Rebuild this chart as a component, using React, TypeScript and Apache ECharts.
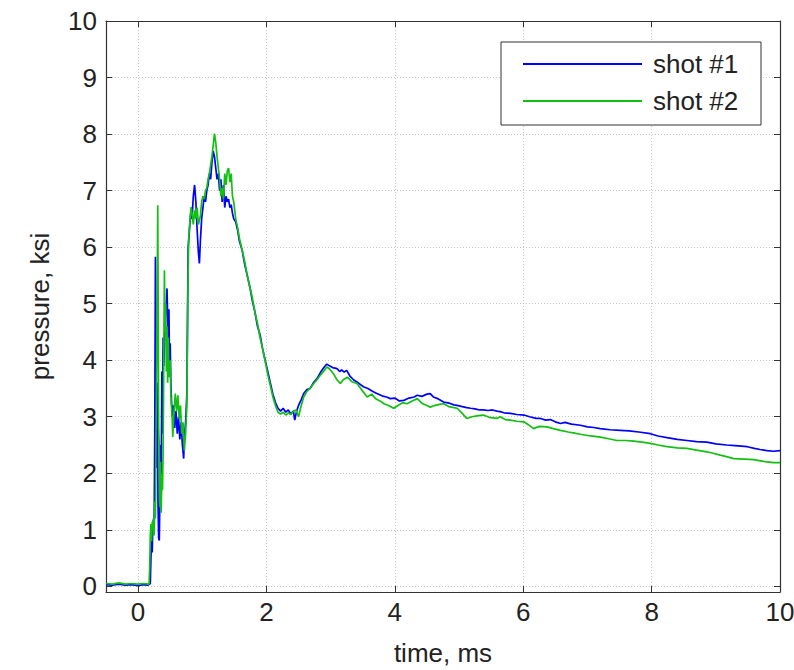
import React, { useEffect, useRef } from "react";
import * as echarts from "echarts";

const seriesNames = ["shot #1", "shot #2"];
const xTickValues = [0, 2, 4, 6, 8, 10];
const yTickValues = [0, 1, 2, 3, 4, 5, 6, 7, 8, 9, 10];

const shot1: number[][] = [
  [-0.5, 0.03], [-0.4, 0.02], [-0.3, 0.04], [-0.2, 0.02], [-0.1, 0.03], [0.0, 0.01], [0.08, 0.03], [0.15, 0.02],
  [0.19, 0.05], [0.2, 0.5], [0.21, 0.9], [0.22, 0.6], [0.23, 1.1], [0.24, 1.18], [0.25, 1.05], [0.26, 2.8],
  [0.27, 5.83], [0.28, 4.2], [0.29, 2.1], [0.3, 3.6], [0.31, 1.5], [0.32, 0.85], [0.33, 0.81], [0.34, 1.6],
  [0.35, 2.5], [0.36, 1.9], [0.37, 3.8], [0.38, 2.7], [0.39, 4.4], [0.4, 3.9], [0.42, 4.6], [0.44, 5.0],
  [0.45, 5.27], [0.46, 4.8], [0.47, 4.3], [0.48, 4.9], [0.49, 3.9], [0.5, 4.3], [0.51, 3.6], [0.53, 3.0],
  [0.55, 3.2], [0.57, 2.8], [0.59, 3.1], [0.61, 2.7], [0.63, 3.0], [0.65, 2.6], [0.67, 2.9], [0.69, 2.5],
  [0.71, 2.26], [0.72, 2.6], [0.74, 2.9], [0.76, 3.4], [0.77, 4.8], [0.78, 6.0], [0.8, 6.3], [0.82, 6.6],
  [0.84, 6.5], [0.86, 6.9], [0.88, 7.1], [0.9, 6.8], [0.92, 6.3], [0.94, 5.9], [0.955, 5.71], [0.97, 6.1],
  [0.99, 6.5], [1.01, 6.7], [1.03, 6.9], [1.05, 6.8], [1.07, 7.0], [1.09, 7.1], [1.11, 7.3], [1.13, 7.2],
  [1.15, 7.5], [1.17, 7.7], [1.19, 7.6], [1.21, 7.4], [1.23, 7.2], [1.25, 7.3], [1.27, 7.0], [1.29, 7.2],
  [1.31, 6.8], [1.33, 7.1], [1.35, 6.7], [1.37, 6.9], [1.39, 6.8], [1.41, 6.85], [1.43, 6.7], [1.45, 6.75],
  [1.47, 6.6], [1.49, 6.5], [1.52, 6.45], [1.55, 6.3], [1.58, 6.1], [1.62, 5.95], [1.66, 5.7], [1.7, 5.5],
  [1.74, 5.3], [1.78, 5.05], [1.82, 4.85], [1.86, 4.6], [1.9, 4.45], [1.94, 4.2], [1.98, 4.0], [2.02, 3.8],
  [2.06, 3.6], [2.1, 3.4], [2.14, 3.25], [2.18, 3.15], [2.22, 3.1], [2.26, 3.15], [2.3, 3.08], [2.34, 3.12],
  [2.38, 3.05], [2.42, 3.1], [2.44, 2.94], [2.47, 3.1], [2.5, 3.2], [2.54, 3.3], [2.58, 3.41], [2.63, 3.48],
  [2.68, 3.5], [2.73, 3.6], [2.79, 3.68], [2.85, 3.8], [2.9, 3.88], [2.94, 3.93], [2.98, 3.9], [3.03, 3.87],
  [3.1, 3.85], [3.14, 3.8], [3.17, 3.83], [3.21, 3.79], [3.25, 3.82], [3.3, 3.72], [3.36, 3.65], [3.43, 3.6],
  [3.51, 3.53], [3.58, 3.5], [3.65, 3.45], [3.72, 3.41], [3.8, 3.37], [3.87, 3.35], [3.93, 3.32], [4.0, 3.33],
  [4.07, 3.28], [4.14, 3.29], [4.22, 3.33], [4.3, 3.35], [4.35, 3.38], [4.42, 3.36], [4.5, 3.4], [4.55, 3.41],
  [4.6, 3.35], [4.67, 3.32], [4.76, 3.26], [4.85, 3.24], [4.92, 3.21], [4.97, 3.2], [5.05, 3.18], [5.12, 3.16],
  [5.18, 3.15], [5.25, 3.14], [5.32, 3.12], [5.38, 3.12], [5.45, 3.11], [5.52, 3.12], [5.59, 3.1], [5.64, 3.09],
  [5.7, 3.07], [5.8, 3.06], [5.9, 3.04], [6.01, 3.03], [6.1, 3.0], [6.2, 2.97], [6.27, 2.97], [6.35, 2.94],
  [6.42, 2.95], [6.5, 2.91], [6.58, 2.88], [6.65, 2.9], [6.75, 2.87], [6.89, 2.85], [7.0, 2.82], [7.1, 2.81],
  [7.2, 2.79], [7.35, 2.77], [7.51, 2.76], [7.65, 2.75], [7.8, 2.73], [7.98, 2.7], [8.1, 2.66], [8.24, 2.63],
  [8.4, 2.6], [8.55, 2.58], [8.7, 2.56], [8.86, 2.55], [9.0, 2.52], [9.17, 2.5], [9.3, 2.49], [9.49, 2.47],
  [9.6, 2.44], [9.69, 2.42], [9.8, 2.4], [9.9, 2.39], [10.0, 2.4],
];

const shot2: number[][] = [
  [-0.5, 0.05], [-0.4, 0.04], [-0.3, 0.06], [-0.2, 0.04], [-0.1, 0.05], [0.0, 0.04], [0.08, 0.05], [0.17, 0.04],
  [0.18, 0.3], [0.19, 0.9], [0.2, 1.1], [0.21, 0.8], [0.22, 1.14], [0.23, 1.0], [0.24, 1.2], [0.25, 0.9],
  [0.26, 1.5], [0.27, 1.2], [0.28, 2.9], [0.29, 4.0], [0.3, 5.5], [0.306, 6.74], [0.315, 4.5], [0.32, 2.8],
  [0.33, 2.47], [0.34, 1.4], [0.35, 2.2], [0.36, 1.3], [0.37, 2.0], [0.38, 1.7], [0.39, 2.4], [0.4, 4.0],
  [0.41, 5.59], [0.42, 4.5], [0.43, 5.0], [0.44, 3.8], [0.45, 4.6], [0.46, 3.6], [0.47, 4.4], [0.48, 3.7],
  [0.5, 4.0], [0.51, 3.4], [0.53, 3.0], [0.54, 2.64], [0.56, 3.1], [0.58, 3.41], [0.6, 3.1], [0.62, 3.38],
  [0.64, 2.96], [0.66, 3.2], [0.68, 2.7], [0.7, 2.9], [0.72, 2.4], [0.74, 2.7], [0.76, 3.2], [0.77, 4.5],
  [0.78, 5.6], [0.79, 6.2], [0.81, 6.5], [0.825, 6.71], [0.84, 6.6], [0.86, 6.4], [0.88, 6.65], [0.9, 6.5],
  [0.92, 6.7], [0.94, 6.4], [0.97, 6.55], [0.99, 6.8], [1.01, 6.9], [1.03, 6.85], [1.05, 7.0], [1.07, 7.05],
  [1.09, 7.2], [1.11, 7.3], [1.13, 7.45], [1.15, 7.6], [1.17, 7.8], [1.19, 8.01], [1.21, 7.85], [1.23, 7.6],
  [1.25, 7.4], [1.27, 7.2], [1.29, 6.9], [1.31, 7.05], [1.33, 6.85], [1.35, 7.3], [1.37, 7.1], [1.39, 7.35],
  [1.41, 7.4], [1.43, 7.15], [1.45, 7.3], [1.47, 6.9], [1.49, 6.8], [1.52, 6.5], [1.55, 6.35], [1.58, 6.15],
  [1.62, 5.95], [1.66, 5.75], [1.7, 5.5], [1.74, 5.3], [1.78, 5.1], [1.82, 4.85], [1.86, 4.65], [1.9, 4.4],
  [1.94, 4.2], [1.98, 3.98], [2.02, 3.75], [2.06, 3.55], [2.1, 3.35], [2.14, 3.2], [2.18, 3.08], [2.22, 3.05],
  [2.26, 3.08], [2.3, 3.03], [2.34, 3.07], [2.38, 3.04], [2.42, 3.1], [2.46, 3.12], [2.5, 3.0], [2.53, 3.15],
  [2.58, 3.35], [2.63, 3.45], [2.68, 3.5], [2.73, 3.58], [2.79, 3.66], [2.85, 3.75], [2.9, 3.82], [2.94, 3.88],
  [2.98, 3.85], [3.05, 3.75], [3.1, 3.65], [3.15, 3.59], [3.2, 3.66], [3.26, 3.7], [3.33, 3.62], [3.41, 3.59],
  [3.48, 3.48], [3.57, 3.35], [3.64, 3.4], [3.7, 3.32], [3.77, 3.28], [3.83, 3.23], [3.9, 3.2], [3.98, 3.15],
  [4.05, 3.2], [4.12, 3.25], [4.19, 3.23], [4.27, 3.28], [4.35, 3.32], [4.42, 3.24], [4.5, 3.2], [4.55, 3.17],
  [4.62, 3.2], [4.7, 3.22], [4.76, 3.23], [4.84, 3.18], [4.92, 3.16], [4.97, 3.15], [5.05, 3.06], [5.12, 2.97],
  [5.2, 3.0], [5.3, 3.02], [5.38, 3.03], [5.47, 2.99], [5.59, 2.97], [5.64, 3.0], [5.72, 2.95], [5.8, 2.94],
  [5.9, 2.92], [6.01, 2.91], [6.08, 2.86], [6.16, 2.79], [6.25, 2.83], [6.37, 2.82], [6.47, 2.79], [6.58, 2.76],
  [6.7, 2.73], [6.8, 2.71], [6.89, 2.69], [7.05, 2.66], [7.2, 2.64], [7.33, 2.61], [7.46, 2.58], [7.6, 2.58],
  [7.72, 2.57], [7.85, 2.55], [7.98, 2.53], [8.1, 2.5], [8.24, 2.47], [8.4, 2.45], [8.55, 2.44], [8.7, 2.41],
  [8.86, 2.38], [8.97, 2.35], [9.07, 2.32], [9.18, 2.29], [9.28, 2.26], [9.45, 2.25], [9.59, 2.24], [9.7, 2.22],
  [9.8, 2.2], [9.9, 2.19], [10.0, 2.19],
];

const FONT = "'Liberation Sans', Arial, sans-serif";
const AXIS = "#333333";
const TEXT = "#222222";
const FS = 26;

export default function App() {
  const ref = useRef<HTMLDivElement>(null);
  useEffect(() => {
    if (!ref.current) return;
    const chart = echarts.init(ref.current, undefined, { renderer: "svg" });
    const xFmt = (v: number) => (xTickValues.includes(v) ? String(v) : "");
    const yFmt = (v: number) => (yTickValues.includes(v) ? String(v) : "");
    const tick = { show: true, inside: true, length: 6, lineStyle: { color: AXIS, width: 1 } };
    const line = { show: true, onZero: false, lineStyle: { color: AXIS, width: 1.2 } };
    const split = { show: true, lineStyle: { color: "#c4c4c4", width: 1, type: [1, 2] as any } };
    chart.setOption({
      animation: false,
      backgroundColor: "#ffffff",
      textStyle: { fontFamily: FONT },
      grid: {
        left: 106,
        right: 14,
        top: 21,
        bottom: 78,
        containLabel: false,
        outerBoundsMode: "none",
      } as any,
      legend: {
        data: seriesNames,
        orient: "vertical",
        left: 523,
        top: 51,
        icon: "rect",
        itemWidth: 119,
        itemHeight: 2,
        itemGap: 11,
        padding: 0,
        z: 5,
        textStyle: { fontSize: FS, color: TEXT, fontFamily: FONT, lineHeight: 26, padding: [0, 0, 0, 6] },
      },
      graphic: [
        {
          type: "rect",
          z: 4,
          shape: { x: 501, y: 42, width: 260, height: 83 },
          style: { fill: "#ffffff", stroke: AXIS, lineWidth: 1 },
        },
      ],
      xAxis: [
        {
          type: "value",
          min: -0.5,
          max: 10,
          splitNumber: 5,
          position: "bottom",
          name: "time, ms",
          nameLocation: "middle",
          nameGap: 47,
          nameTextStyle: { fontSize: FS, color: TEXT, fontFamily: FONT, lineHeight: 28 },
          axisLine: line,
          axisTick: tick,
          splitLine: split,
          axisLabel: { formatter: xFmt, fontSize: FS, color: TEXT, margin: 7, fontFamily: FONT },
        },
        {
          type: "value",
          min: -0.5,
          max: 10,
          splitNumber: 5,
          position: "top",
          axisLine: line,
          axisTick: tick,
          splitLine: { show: false },
          axisLabel: { show: false },
        },
      ],
      yAxis: [
        {
          type: "value",
          min: -0.1,
          max: 10,
          splitNumber: 10,
          position: "left",
          name: "pressure, ksi",
          nameLocation: "middle",
          nameGap: 53,
          nameTextStyle: { fontSize: FS, color: TEXT, fontFamily: FONT },
          axisLine: line,
          axisTick: tick,
          splitLine: split,
          axisLabel: { formatter: yFmt, fontSize: FS, color: TEXT, margin: 9, fontFamily: FONT },
        },
        {
          type: "value",
          min: -0.1,
          max: 10,
          splitNumber: 10,
          position: "right",
          axisLine: line,
          axisTick: tick,
          splitLine: { show: false },
          axisLabel: { show: false },
        },
      ],
      series: [
        {
          name: seriesNames[0],
          type: "line",
          data: shot1,
          symbol: "none",
          color: "#0000ff",
          lineStyle: { color: "#0000ff", width: 1.7 },
          z: 2,
        },
        {
          name: seriesNames[1],
          type: "line",
          data: shot2,
          symbol: "none",
          color: "#12c012",
          lineStyle: { color: "#12c012", width: 1.7 },
          z: 3,
        },
      ],
    });
    return () => chart.dispose();
  }, []);
  return (
    <div
      ref={ref}
      style={{ position: "fixed", left: 0, top: 0, width: 794, height: 670, background: "#fff" }}
    />
  );
}
